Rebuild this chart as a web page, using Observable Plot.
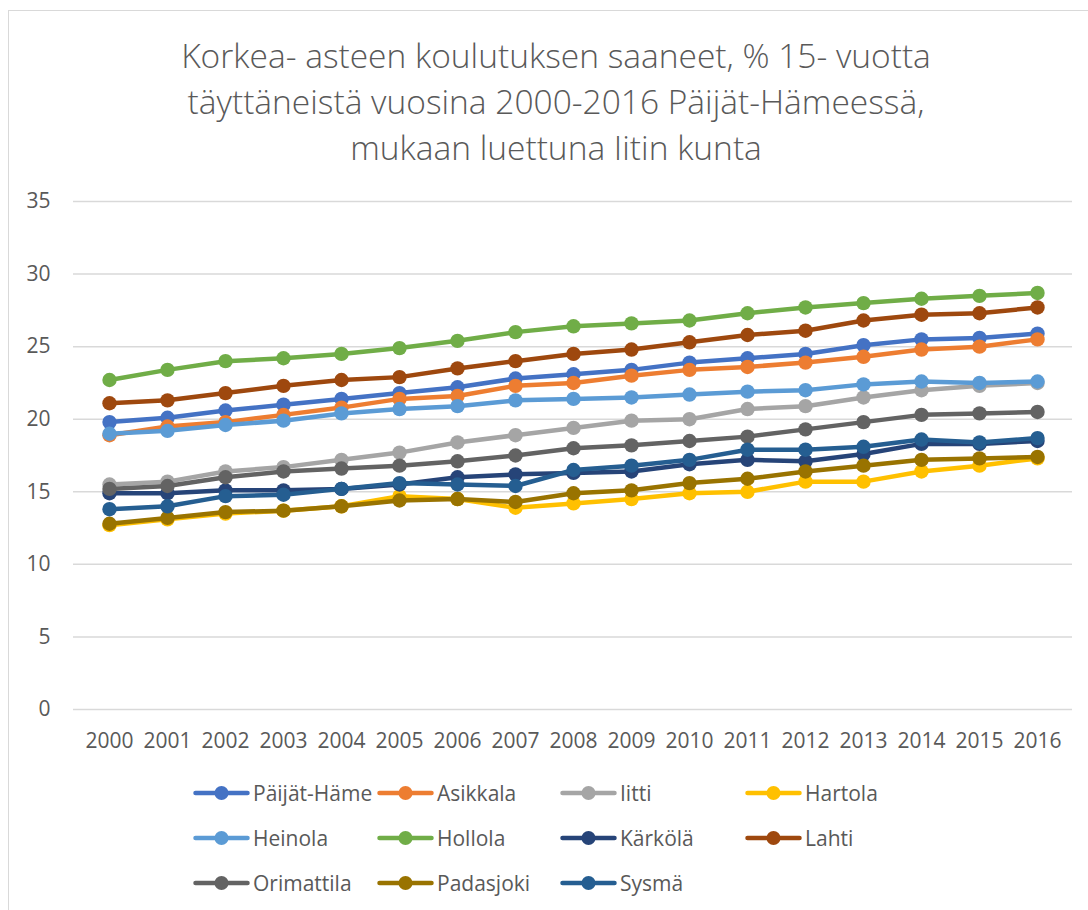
<!DOCTYPE html>
<html>
<head>
<meta charset="utf-8">
<script src="https://cdn.jsdelivr.net/npm/d3@7"></script>
<script src="https://cdn.jsdelivr.net/npm/@observablehq/plot@0.6"></script>
<style>
  html, body { margin: 0; padding: 0; background: #fff; overflow: hidden; }
  #frame { position: absolute; left: 8px; top: 10px; width: 1096px; height: 940px; border: 1.5px solid #d9d9d9; box-sizing: border-box; }
  #title { position: absolute; left: 8px; width: 1096px; top: 32px; text-align: center; font-family: "Open Sans", sans-serif; font-weight: 300; font-size: 33.5px; line-height: 46px; color: #595959; }
  #chart { position: absolute; left: 0; top: 180px; }
  #legend { position: absolute; left: 0; top: 0; font-family: "Open Sans", sans-serif; font-size: 21px; color: #595959; }
  .item { position: absolute; display: flex; align-items: center; white-space: nowrap; }
  .item svg { display: block; margin-right: 3px; }
</style>
</head>
<body>
<div id="frame"></div>
<div id="title">Korkea- asteen koulutuksen saaneet, % 15- vuotta<br>täyttäneistä vuosina 2000-2016 Päijät-Hämeessä,<br>mukaan luettuna Iitin kunta</div>
<div id="chart"></div>
<div id="legend"></div>
<script>
const years = [2000,2001,2002,2003,2004,2005,2006,2007,2008,2009,2010,2011,2012,2013,2014,2015,2016];
const yTicks = [0,5,10,15,20,25,30,35];

const names = ["Päijät-Häme","Asikkala","Iitti","Hartola","Heinola","Hollola","Kärkölä","Lahti","Orimattila","Padasjoki","Sysmä"];
const colors = ["#4472C4","#ED7D31","#A5A5A5","#FFC000","#5B9BD5","#70AD47","#264478","#9E480E","#636363","#997300","#255E91"];

const paijatHame = [19.8,20.1,20.6,21.0,21.4,21.8,22.2,22.8,23.1,23.4,23.9,24.2,24.5,25.1,25.5,25.6,25.9];
const asikkala   = [18.9,19.5,19.8,20.3,20.8,21.4,21.6,22.3,22.5,23.0,23.4,23.6,23.9,24.3,24.8,25.0,25.5];
const iitti      = [15.5,15.7,16.4,16.7,17.2,17.7,18.4,18.9,19.4,19.9,20.0,20.7,20.9,21.5,22.0,22.3,22.5];
const hartola    = [12.7,13.1,13.5,13.7,14.0,14.7,14.5,13.9,14.2,14.5,14.9,15.0,15.7,15.7,16.4,16.8,17.3];
const heinola    = [19.0,19.2,19.6,19.9,20.4,20.7,20.9,21.3,21.4,21.5,21.7,21.9,22.0,22.4,22.6,22.5,22.6];
const hollola    = [22.7,23.4,24.0,24.2,24.5,24.9,25.4,26.0,26.4,26.6,26.8,27.3,27.7,28.0,28.3,28.5,28.7];
const karkola    = [14.9,14.9,15.1,15.1,15.2,15.5,16.0,16.2,16.3,16.4,16.9,17.2,17.1,17.6,18.3,18.3,18.5];
const lahti      = [21.1,21.3,21.8,22.3,22.7,22.9,23.5,24.0,24.5,24.8,25.3,25.8,26.1,26.8,27.2,27.3,27.7];
const orimattila = [15.2,15.4,16.0,16.4,16.6,16.8,17.1,17.5,18.0,18.2,18.5,18.8,19.3,19.8,20.3,20.4,20.5];
const padasjoki  = [12.8,13.2,13.6,13.7,14.0,14.4,14.5,14.3,14.9,15.1,15.6,15.9,16.4,16.8,17.2,17.3,17.4];
const sysma      = [13.8,14.0,14.7,14.8,15.2,15.6,15.5,15.4,16.5,16.8,17.2,17.9,17.9,18.1,18.6,18.4,18.7];

const seriesValues = [paijatHame, asikkala, iitti, hartola, heinola, hollola, karkola, lahti, orimattila, padasjoki, sysma];

const rows = [];
names.forEach((name, i) => {
  years.forEach((year, j) => rows.push({name, year, value: seriesValues[i][j]}));
});

const seriesMarks = [];
names.forEach((name, i) => {
  const data = rows.filter(d => d.name === name);
  seriesMarks.push(Plot.line(data, {x: "year", y: "value", stroke: colors[i], strokeWidth: 4.5, strokeLinejoin: "round", strokeLinecap: "round"}));
  seriesMarks.push(Plot.dot(data, {x: "year", y: "value", r: 7.2, fill: colors[i], stroke: "none"}));
});

const chart = Plot.plot({
  width: 1088,
  height: 580,
  marginLeft: 73,
  marginRight: 16,
  marginTop: 21,
  marginBottom: 51,
  style: {fontFamily: "'Open Sans', sans-serif", fontSize: "21px", color: "#595959", background: "transparent"},
  x: {type: "point", domain: years, padding: 0.5, label: null},
  y: {domain: [0, 35], label: null},
  marks: [
    Plot.ruleY(yTicks, {stroke: "#d9d9d9", strokeWidth: 1.5}),
    Plot.axisY({ticks: yTicks, tickSize: 0, tickPadding: 23, label: null}),
    Plot.axisX({tickSize: 0, tickPadding: 24, tickFormat: d => String(d), label: null}),
    ...seriesMarks
  ]
});
document.getElementById("chart").appendChild(chart);

// legend
const legend = document.getElementById("legend");
const colX = [193, 377, 560, 745];
const rowY = [793, 838, 883];
names.forEach((name, i) => {
  const col = i % 4, row = Math.floor(i / 4);
  const item = document.createElement("div");
  item.className = "item";
  item.style.left = colX[col] + "px";
  item.style.top = (rowY[row] - 15) + "px";
  item.style.height = "30px";
  const ns = "http://www.w3.org/2000/svg";
  const svg = document.createElementNS(ns, "svg");
  svg.setAttribute("width", 57); svg.setAttribute("height", 20);
  const ln = document.createElementNS(ns, "line");
  ln.setAttribute("x1", 2.5); ln.setAttribute("x2", 54.5); ln.setAttribute("y1", 10); ln.setAttribute("y2", 10);
  ln.setAttribute("stroke", colors[i]); ln.setAttribute("stroke-width", 4.5); ln.setAttribute("stroke-linecap", "round");
  const c = document.createElementNS(ns, "circle");
  c.setAttribute("cx", 28.5); c.setAttribute("cy", 10); c.setAttribute("r", 7); c.setAttribute("fill", colors[i]);
  svg.appendChild(ln); svg.appendChild(c);
  const t = document.createElement("span");
  t.textContent = name;
  item.appendChild(svg); item.appendChild(t);
  legend.appendChild(item);
});
</script>
</body>
</html>
